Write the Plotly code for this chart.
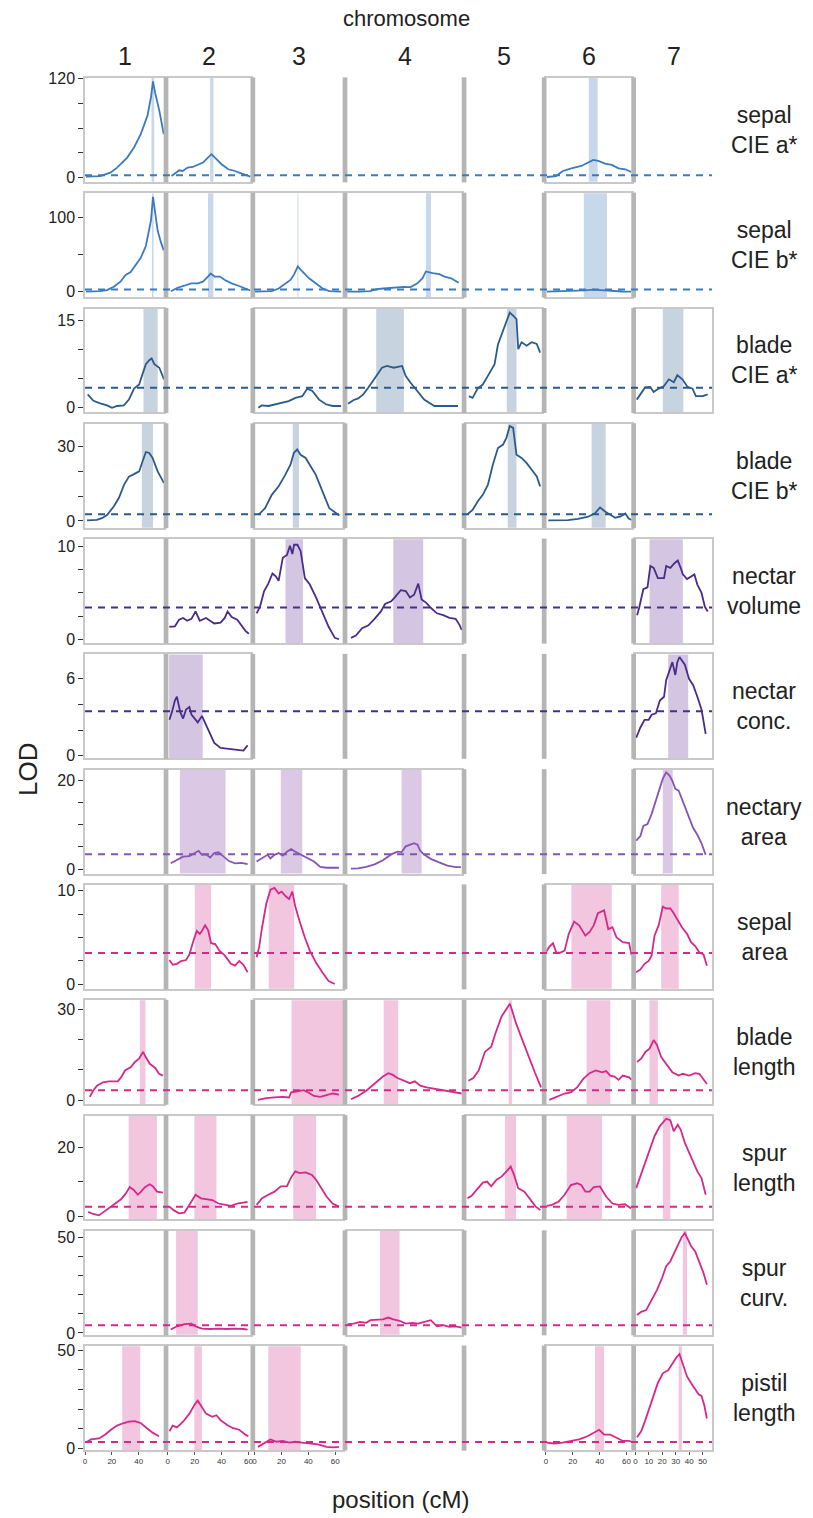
import plotly.graph_objects as go
from plotly.subplots import make_subplots

# ---------------- data ----------------
chromosomes = ["1", "2", "3", "4", "5", "6", "7"]
chrom_len = [59, 62, 66, 86, 57, 64, 57]
chrom_ticks = [[0, 20, 40], [0, 20, 40, 60], [0, 20, 40, 60], [0, 20, 40, 60, 80],
               [0, 20, 40], [0, 20, 40, 60], [0, 10, 20, 30, 40, 50]]

traits = ["sepal<br>CIE a*", "sepal<br>CIE b*", "blade<br>CIE a*", "blade<br>CIE b*",
          "nectar<br>volume", "nectar<br>conc.", "nectary<br>area", "sepal<br>area",
          "blade<br>length", "spur<br>length", "spur<br>curv.", "pistil<br>length"]
thresholds = [3, 3, 3.46, 2.7, 3.43, 3.46, 3.33, 3.35, 3.3, 2.86, 4.0, 3.3]
y_ranges = [[-5, 121], [-7, 132], [-0.8, 17.1], [-2.7, 39], [-0.4, 10.8], [-0.2, 7.9],
            [-1, 22.3], [-0.47, 10.6], [-1.3, 32.9], [-0.76, 29], [-0.9, 53.5], [-0.8, 52]]
y_tickvals = [[0, 30, 60, 90, 120], [0, 50, 100], [0, 5, 10, 15], [0, 10, 20, 30],
              [0, 2.5, 5, 7.5, 10], [0, 2, 4, 6], [0, 5, 10, 15, 20], [0, 2.5, 5, 7.5, 10],
              [0, 10, 20, 30], [0, 10, 20], [0, 10, 20, 30, 40, 50], [0, 10, 20, 30, 40, 50]]
y_ticktext = [["0", "", "", "", "120"], ["0", "", "100"], ["0", "", "", "15"], ["0", "", "", "30"],
              ["0", "", "", "", "10"], ["0", "", "", "6"], ["0", "", "", "", "20"], ["0", "", "", "", "10"],
              ["0", "", "", "30"], ["0", "", "20"], ["0", "", "", "", "", "50"], ["0", "", "", "", "", "50"]]

blue1, blue2, purple1, purple2, magenta = "#3a7bbf", "#2b5b8c", "#4a2c8a", "#8554b5", "#d5288a"
line_colors = [blue1, blue1, blue2, blue2, purple1, purple1, purple2,
               magenta, magenta, magenta, magenta, magenta]
ci_colors = ["#c7d8ea", "#c7d8ea", "#c8d3e0", "#c8d3e0", "#d4c6e2", "#d4c6e2", "#dbc8e4",
             "#f1c6de", "#f1c6de", "#f1c6de", "#f1c6de", "#f1c6de"]

# LOD profiles: position (cM) and LOD, keyed by chromosome
sepal_a_pos = {1: [0.8, 11.3, 18.9, 23.9, 31.4, 36.5, 41.5, 46.5, 49.1, 50.6, 52.1, 55.3, 58.6],
               2: [2.8, 6, 8.5, 11.1, 14.8, 18.6, 22.4, 26.2, 29.9, 32.5, 36.2, 40, 45, 50, 55.1, 59.5, 61.5],
               6: [0.75, 7.5, 12.6, 18.9, 26.4, 31.4, 35.2, 39, 44, 49, 54.1, 59.1, 63.5]}
sepal_a_lod = {1: [1.2, 2, 6.1, 12.2, 24.4, 36.6, 52.9, 75.3, 97.6, 117, 103.7, 81.4, 52.9],
               2: [2, 6.1, 9, 8.1, 12.2, 13, 15.5, 18.3, 24.4, 28.5, 22.4, 16.3, 10.2, 8.1, 4.9, 2, 1.2],
               6: [0.8, 2, 8.1, 11.4, 14.2, 18.3, 21.6, 20.3, 17.1, 15.5, 11.4, 10.2, 6.9]}
sepal_a_ci = {1: (49.5, 51.5), 2: (31.5, 34), 6: (31.9, 38.5)}

sepal_b_pos = {1: [0.8, 11.3, 16.4, 21.4, 26.4, 30.2, 34, 37.7, 41.5, 45.3, 47.8, 49.1, 50.6, 52.1, 54.1, 56.6, 58.6],
               2: [2.3, 7.3, 12.3, 17.4, 22.4, 26.2, 29.9, 31.9, 34.9, 38.7, 42.5, 47.5, 52.6, 57.6, 61.4],
               3: [0.3, 5.3, 12.8, 17.9, 22.9, 26.7, 29.2, 32.2, 35.5, 40.5, 45.5, 50.6, 55.6, 64.4],
               4: [0.2, 2.3, 9.8, 17.4, 22.4, 27.4, 35, 42.5, 47.5, 52.6, 56.4, 58.9, 63.9, 68.9, 72.7, 77.7, 83.3],
               6: [0.75, 8.8, 18.9, 29, 35.2, 41.5, 49, 56.6, 63.5]}
sepal_b_lod = {1: [0.3, 0.9, 2.3, 6.8, 13.6, 22.7, 26.4, 35.5, 45.5, 61.4, 81.8, 95.5, 127.3, 104.5, 81.8, 65.9, 55.5],
               2: [0.9, 5.5, 8.2, 11.4, 11.4, 13.6, 20.5, 24.5, 20.5, 20.5, 15.9, 11.4, 8.2, 4.5, 1.8],
               3: [0.3, 0.2, 0.9, 4.5, 11.4, 15.9, 22.7, 34.1, 27.3, 18.2, 11.4, 4.5, 0.9, 0.3],
               4: [0.3, 0.1, 0.3, 0.9, 3.6, 4.5, 5.5, 6.8, 6.4, 11.4, 18.2, 27.3, 25, 23.6, 20.5, 18.2, 12.3],
               6: [0.3, 0.5, 1, 2, 3, 2.2, 1, 0.5, 0.3]}
sepal_b_ci = {1: (49.8, 51.0), 2: (29.9, 33.9), 3: (31.9, 32.6), 4: (58.9, 62.7), 6: (28.2, 45.5)}

blade_a_pos = {1: [2, 6.3, 11.3, 16.4, 20.1, 23.9, 28.9, 32.7, 36.5, 40.3, 42.8, 45.3, 47.8, 49.6, 51.6, 55.3, 58.8],
               3: [2.8, 5.3, 10.3, 17.9, 25.4, 30.4, 35.5, 39.2, 43, 48, 53.1, 58.1, 64.4],
               4: [1, 4.8, 8.5, 12.3, 16.1, 19.9, 23.7, 26.2, 29.9, 35, 41.2, 43.8, 47.5, 52.6, 57.6, 65.2, 72.7, 82.8],
               5: [2.3, 5, 8.8, 12.6, 16.4, 21.4, 23.9, 26.4, 28.9, 31.4, 32.7, 35.2, 37.7, 39, 41.5, 45.3, 49, 52.8, 55.3],
               7: [1, 3.5, 7.2, 11, 13.5, 17.3, 21.1, 24.9, 28.6, 31.2, 35, 38.7, 42.5, 45, 50.1, 53.8]}
blade_a_lod = {1: [2.3, 1.2, 0.75, 0.4, 0, 0.3, 0.4, 1.4, 3.3, 4, 5.8, 7.5, 8.2, 8.5, 7.5, 6.9, 4.9],
               3: [0, 0.4, 0.3, 0.75, 1.15, 1.7, 2, 3.3, 2.9, 1.4, 0.6, 0.3, 0.3],
               4: [0.7, 1.3, 1.6, 2.3, 3.5, 4.7, 6.1, 6.9, 7.2, 6.9, 7.2, 5.5, 4.3, 2.9, 1.4, 0.3, 0.3, 0.3],
               5: [2, 1.7, 3.3, 4, 5.5, 7.5, 10.9, 12.4, 14.1, 15.3, 16.4, 15.9, 15.3, 10.1, 11.3, 10.7, 11.3, 11, 9.5],
               7: [1.4, 2.3, 3.5, 3.6, 2.7, 3.3, 3.7, 4.9, 4.4, 5.6, 4.9, 3.6, 3.3, 2, 2, 2.3]}
blade_a_ci = {1: (43.5, 54.1), 4: (21.9, 42.5), 5: (30.5, 37.7), 7: (20.4, 35.7)}

blade_b_pos = {1: [1.5, 8.8, 12.6, 16.4, 21.4, 25.2, 29, 32.7, 36.5, 40.3, 42.8, 45.3, 47.8, 50.3, 54.1, 56.6, 58.8],
               3: [2.8, 7.8, 12.8, 17.9, 22.9, 26.7, 29.2, 31.7, 34.2, 38, 41.8, 45.5, 50.6, 55.6, 63.1],
               5: [1.3, 5, 8.8, 12.6, 16.4, 20.1, 23.9, 27.7, 30.2, 32.7, 35.2, 37.7, 41.5, 45.3, 49, 52.8, 55.3],
               6: [1.8, 8.8, 16.4, 23.9, 31.4, 36.5, 40.3, 44, 47.8, 51.6, 55.3, 59.1, 61.6, 63.8]}
blade_b_lod = {1: [0.2, 0.4, 1.1, 2.4, 5.8, 9.2, 14.5, 17.8, 18.8, 19.9, 23.9, 27.7, 27.3, 25.3, 19.9, 17.2, 15.2],
               3: [2.4, 5.1, 10.5, 13.9, 18.6, 22.6, 27.3, 28.7, 26.6, 25.3, 21.9, 18.6, 11.8, 5.1, 2.2],
               5: [2.7, 4.4, 7.8, 10.5, 14.5, 22.6, 29.3, 30.7, 33.4, 38.1, 37.4, 26.6, 25.3, 23.2, 20.6, 17.9, 13.9],
               6: [0.2, 0.3, 0.3, 0.8, 1.7, 3.1, 5.4, 3.8, 2.7, 1.3, 1.7, 3, 1, 0.4]}
blade_b_ci = {1: (42.3, 50.6), 3: (28.4, 33), 5: (31.2, 37.7), 6: (34, 44.5)}

nectar_vol_pos = {2: [1.2, 5.3, 8.4, 11.4, 14.5, 17.6, 20.7, 23.8, 28.5, 34.6, 39.3, 42.4, 44.5, 47.6, 51.7, 54.7, 57.8, 60.3],
                  3: [1.5, 4, 7.1, 10.2, 13.3, 15.8, 17.9, 21, 24.1, 26.3, 28.1, 29.4, 31.9, 34.3, 37.4, 41.1, 45.8, 50.4, 55.1, 59.7, 62.8],
                  4: [3.1, 6.8, 11.4, 16.1, 20.7, 25.4, 28.5, 33.1, 36.2, 40.2, 43.9, 47, 50.1, 53.2, 55.7, 59.4, 62.5, 67.1, 71.8, 76.4, 81, 84.1, 85.5],
                  7: [1.2, 2.8, 5.9, 9, 11.1, 13.6, 16.7, 21.3, 22.9, 26, 29.1, 31.5, 33.7, 35.3, 38.4, 41.4, 43.9, 46.1, 49.2, 51.7, 53.8]}
nectar_vol_lod = {2: [1.35, 1.4, 2.1, 2.3, 2, 2.2, 3, 2, 2.3, 1.7, 1.8, 2.3, 3, 2.4, 2.1, 1.5, 0.9, 0.6],
                  3: [2.8, 3.5, 5.2, 6, 7.1, 6.8, 6.3, 8.8, 9.1, 10.1, 9.2, 10.2, 10.2, 9.5, 6.6, 5.9, 4.5, 3, 1.35, 0.15, 0],
                  4: [0.15, 0.4, 1.2, 1.5, 2.2, 3, 3.8, 4.1, 4.6, 5.3, 5.2, 4.5, 4.8, 6, 4.3, 3.9, 3.4, 2.8, 2.6, 2.3, 2.2, 1.5, 1],
                  7: [2.6, 3.4, 5.4, 5.6, 7.9, 7.7, 6.6, 6.6, 7.9, 7.7, 8.2, 8.5, 7.7, 7, 6.5, 6.8, 7, 5.9, 5, 3.5, 3]}
nectar_vol_ci = {3: (23, 36), 4: (34.6, 56.9), 7: (10.5, 35.3)}

nectar_conc_pos = {2: [1.2, 3.1, 5.3, 6.8, 9.3, 11.4, 13.6, 16.1, 17.6, 19.8, 22.3, 25.4, 29.1, 31.5, 34.6, 39.3, 45.5, 51.7, 56.3, 59.4],
                   7: [0.6, 3.7, 6.8, 9.9, 12.1, 15.2, 18.2, 21.3, 22.9, 25.4, 27.5, 29.7, 31.2, 32.8, 34.6, 36.8, 39.9, 43, 46.1, 49.2, 52.3]}
nectar_conc_lod = {2: [2.8, 3.4, 4.3, 4.6, 3.4, 2.9, 3.6, 3.8, 3.2, 2.9, 2.6, 3.1, 2.3, 1.7, 1, 0.6, 0.5, 0.45, 0.4, 0.8],
                   7: [1.4, 2.2, 2.8, 2.8, 3.2, 3.3, 4.3, 4.6, 5.9, 6.6, 7.3, 6.3, 7.3, 7.7, 7.4, 7.1, 6, 5.5, 4.6, 3.6, 1.7]}
nectar_conc_ci = {2: (1, 26), 7: (24.4, 39.3)}

nectary_area_pos = {2: [2.2, 6.8, 11.4, 16.1, 20.7, 22.9, 25.4, 28.5, 31.5, 34.6, 37.7, 40.8, 45.5, 50.1, 54.7, 59.4],
                    3: [1.5, 5.6, 9.6, 11.8, 14.8, 17.9, 21, 24.1, 27.2, 30.3, 34.9, 39.6, 44.2, 48.9, 53.5, 58.1, 62.8],
                    4: [3.1, 8.4, 14.5, 20.7, 26.9, 33.1, 37.7, 40.8, 43.9, 47, 50.1, 52.6, 54.7, 57.8, 62.5, 68.7, 74.9, 81, 85],
                    7: [0.6, 3.7, 5.9, 9, 12.1, 15.2, 18.2, 20.4, 22.9, 25.4, 27.5, 29.7, 32.2, 35.3, 39, 43, 46.1, 49.2, 52.3]}
nectary_area_lod = {2: [1.3, 2, 2.8, 2.9, 3.6, 4.1, 3.2, 3.3, 2.6, 3.6, 3.8, 3, 1.8, 1.3, 1.4, 1.1],
                    3: [1.7, 2.4, 3.2, 2.4, 3.2, 3.6, 3, 3.9, 4.5, 3.9, 3.2, 2.4, 1.7, 0.5, 0.3, 0.3, 0.3],
                    4: [0.1, 0.15, 0.5, 1.06, 2, 3.3, 3.9, 3.8, 5.1, 5.5, 5.8, 5.5, 4.1, 3.2, 2.3, 1.5, 0.8, 0.45, 0.45],
                    7: [6.4, 7.4, 9.7, 10.1, 12.4, 15.5, 18, 20.3, 21.7, 21, 19.8, 18, 17.6, 15.3, 12.3, 9.2, 7.7, 5.8, 3.2]}
nectary_area_ci = {2: (9, 43), 3: (19.5, 35.5), 4: (40.8, 55.7), 7: (20.4, 27.8)}

sepal_area_pos = {2: [1.2, 3.7, 6.8, 9.9, 13.6, 16.1, 19.2, 21.6, 23.8, 25.4, 27.8, 30, 32.2, 35.3, 38.4, 42.4, 47, 50.1, 53.2, 56.3, 59.4],
                  3: [1.5, 3.4, 5.6, 8.7, 11.8, 14.8, 17.9, 20.1, 23.2, 25.7, 28.1, 30.3, 33.4, 37.4, 41.1, 45.8, 50.4, 55.1, 59.7],
                  6: [0.3, 2.5, 5.3, 7.7, 10.8, 13.9, 17, 21, 24.7, 29.4, 32.5, 35.6, 38.7, 43.3, 46.4, 49.5, 52.6, 57.2, 61.9, 63.8],
                  7: [0.6, 3.7, 6.8, 9.9, 12.1, 14.2, 17.3, 20.4, 22.9, 26, 28.5, 31.5, 34.6, 38.4, 41.4, 44.5, 47.6, 50.7, 53.2]}
sepal_area_lod = {2: [2.6, 2.1, 2.2, 2.5, 2.6, 3.2, 4.7, 5.7, 5.4, 5.7, 6.3, 5.8, 4.4, 4.3, 3.6, 3.1, 2.2, 2, 2.5, 2.1, 1.3],
                  3: [2.9, 4, 6.1, 8.6, 10.1, 10.3, 9.7, 9.9, 9.4, 9.1, 9.9, 8.3, 6.8, 5, 3.6, 2.3, 1.3, 0.36, 0.05],
                  6: [3.5, 4, 4.4, 3.4, 3.4, 3.6, 5.4, 6.7, 6.3, 5.2, 5.6, 6.3, 7.6, 7.9, 5.9, 6.1, 5, 4.5, 4.4, 3.1],
                  7: [1.3, 1.6, 2.2, 2.5, 3.1, 5.2, 6.3, 8.3, 8.1, 8.1, 7.6, 6.8, 6.1, 5.4, 4.5, 4.1, 3.4, 3.2, 2]}
sepal_area_ci = {2: (20.1, 32.2), 3: (10.5, 29.5), 6: (19, 49), 7: (19.2, 32.2)}

blade_len_pos = {1: [3.6, 6, 8.9, 13.4, 17.9, 24.4, 26.8, 29.8, 34.2, 37.2, 40.2, 43.2, 45.2, 48.2, 52.1, 55.1, 58],
                 3: [2.5, 8.7, 14.8, 21, 25.7, 27.2, 31.9, 36.5, 39.6, 44.2, 48.9, 53.5, 58.1, 62.8],
                 4: [3.1, 8.4, 14.5, 19.2, 23.8, 26.9, 30.9, 34, 37.7, 42.4, 47, 50.7, 54.7, 59.4, 65.6, 71.8, 77.9, 85.5],
                 5: [1.9, 5.6, 9.6, 14.2, 18.9, 22, 26.6, 30.3, 32.8, 34.3, 37.4, 42.1, 46.7, 51.3, 56],
                 6: [2.5, 7.7, 13.9, 18.6, 23.2, 27.8, 32.5, 37.1, 41.8, 44.8, 47.9, 51, 54.1, 57.2, 61.9, 63.8],
                 7: [1.2, 4.3, 7.4, 10.5, 13.6, 16.1, 19.2, 22.9, 27.5, 32.2, 35.3, 39.9, 44.5, 47.6, 50.7, 53.2]}
blade_len_lod = {1: [1.1, 3.1, 4.8, 5.9, 6.2, 6.2, 7.5, 9.8, 10.9, 12.6, 13.7, 15.9, 14.2, 12, 10.7, 8.7, 8.1],
                 3: [0.1, 0.7, 0.9, 1.1, 0.9, 2.6, 2.9, 3.3, 2.6, 1.4, 1.1, 1.6, 2.2, 1.8],
                 4: [0.3, 1.4, 3.1, 4.8, 6.4, 7.8, 8.9, 8.4, 7.3, 6.4, 5.6, 6.2, 4.8, 4.2, 3.7, 3.1, 2.6, 2.2],
                 5: [6.4, 7.3, 9.8, 15.9, 17.6, 22, 27.6, 30.3, 31.8, 29.8, 25.3, 19.8, 14.2, 9.2, 4.2],
                 6: [0.1, 1.1, 2.2, 2.6, 4.2, 7, 8.9, 9.8, 9.2, 9.6, 8.1, 7.8, 6.7, 8.1, 7.5, 6.7],
                 7: [12.6, 13.7, 15.9, 17, 19.8, 18.1, 14.2, 11.8, 9.2, 8.1, 8.7, 8.1, 8.9, 8.7, 6.7, 5.3]}
blade_len_ci = {1: (40.8, 45), 3: (27.5, 66), 4: (27.5, 38.3), 5: (31.9, 34.3), 6: (30.3, 47.9), 7: (10.5, 16.7)}

spur_len_pos = {1: [2.4, 6, 10.4, 13.4, 17.9, 22.3, 26.8, 30.4, 33.3, 36.3, 39.3, 41.7, 44.6, 48.2, 50.6, 53.6, 58],
                2: [1.2, 4.3, 8.4, 12.4, 16.7, 20.7, 24.7, 29.1, 33.1, 37.7, 42.4, 47, 51.7, 56.3, 59.4],
                3: [1.5, 5.6, 10.2, 14.8, 19.5, 24.1, 27.2, 30.3, 33.4, 38, 42.7, 45.8, 48.9, 53.5, 58.1, 62.8],
                5: [1.2, 4.3, 8, 12.7, 15.8, 18.9, 22.9, 26.6, 30.3, 33.4, 35.9, 39, 43.6, 48.3, 52, 55.5],
                6: [0.6, 4.6, 9.3, 13.9, 18.6, 23.2, 26.3, 29.4, 32.5, 35.6, 40.2, 44.8, 49.5, 54.1, 58.8, 63.4],
                7: [0.6, 3.7, 7.4, 10.5, 14.2, 18.2, 22.9, 26, 28.5, 31.5, 33.7, 36.8, 39.9, 43, 46.1, 49.2, 52.3]}
spur_len_lod = {1: [1.4, 0.8, 0.4, 1.2, 2.4, 3.8, 5, 6.7, 8.5, 7.7, 6.3, 7.2, 8.5, 9.3, 8.7, 7.2, 6.9],
                2: [2.9, 1.9, 1, 1.2, 3.8, 6.3, 5.3, 5, 4.8, 3.8, 3.4, 3.1, 3.8, 4, 4.3],
                3: [3.4, 5.3, 6.3, 7.2, 8.7, 8.8, 11.3, 13, 12.5, 12.7, 12, 10.6, 8.7, 5.8, 3.8, 2.9],
                5: [5.3, 6, 7.7, 9.8, 10.1, 8.7, 10.6, 11.5, 13, 14.4, 12, 8.2, 7.2, 4.8, 2.9, 1.9],
                6: [3.1, 3.4, 4.3, 6.3, 9.1, 9.6, 9.1, 7.2, 7.2, 8.5, 8.7, 5.8, 3.8, 3.4, 3.6, 2.4],
                7: [8.2, 11.5, 15.4, 19.2, 23.1, 26, 28.1, 27.7, 24.5, 26.4, 25, 21.2, 18.3, 15.4, 13, 11.1, 6.3]}
spur_len_ci = {1: (32.5, 53.5), 2: (19.8, 36.2), 3: (28.8, 45.8), 5: (29.1, 37.4), 6: (15.5, 41.8), 7: (20.4, 26)}

spur_curv_pos = {2: [2.2, 6.8, 12.4, 17.6, 20.7, 25.4, 31.5, 37.7, 43.9, 50.1, 56.3, 59.4],
                 4: [0.6, 5.3, 9.9, 14.5, 17.6, 22.3, 26.9, 30.9, 34.6, 39.3, 43.9, 48.6, 53.2, 57.8, 62.5, 67.1, 71.8, 76.4, 81, 85.5],
                 7: [1.2, 4.3, 8, 12.1, 16.1, 19.8, 22.9, 26, 29.1, 32.2, 34.6, 36.8, 38.4, 41.4, 44.5, 47.6, 50.7, 53.2]}
spur_curv_lod = {2: [1.8, 3.5, 4.6, 4.9, 3.5, 2.3, 2.1, 2.3, 2.1, 2.3, 2.1, 1.8],
                 4: [4.6, 4.9, 5.8, 5.3, 6.7, 7.1, 7.1, 8.1, 7.1, 6.4, 4.9, 5.3, 4.9, 5.8, 6.7, 3.5, 4.1, 3.2, 3.5, 2.8],
                 7: [9.4, 11.1, 12, 17.3, 22.6, 28.8, 35, 37.6, 42, 47.3, 50.5, 52.3, 50, 45.6, 42.8, 37.6, 31.4, 25.3]}
spur_curv_ci = {2: (6.2, 22.3), 4: (24.7, 39.3), 7: (35.3, 38.4)}

pistil_len_pos = {1: [1.5, 4.5, 10.4, 14.9, 19.3, 23.8, 28.3, 32.7, 37.2, 41.7, 46.1, 50.6, 55.1],
                  2: [1.2, 3.7, 6.8, 11.4, 16.1, 19.8, 22.3, 24.7, 28.5, 33.1, 36.2, 39.3, 43.9, 48.6, 53.2, 57.8, 60],
                  3: [2.5, 7.1, 11.8, 16.4, 21, 25.7, 30.3, 35, 41.1, 47.3, 53.5, 58.1, 62.8],
                  6: [0.6, 6.2, 12.4, 18.6, 24.7, 30.9, 35.6, 39.6, 43.3, 47.9, 52.6, 57.2, 61.9, 63.8],
                  7: [1.2, 4.3, 7.4, 10.5, 13.6, 16.7, 20.4, 24.4, 27.5, 30.6, 32.8, 35.3, 38.4, 41.4, 44.5, 47, 49.2, 51.3, 53.2]}
pistil_len_lod = {1: [3.4, 4.6, 5.1, 7, 9.5, 11.6, 12.8, 13.6, 13.9, 12.8, 10.3, 7.9, 6.2],
                  2: [8.7, 11.6, 10.7, 13.6, 17.7, 22.1, 24.3, 21.8, 17.7, 16.1, 16.9, 14.4, 12, 10.3, 9.5, 7, 6.2],
                  3: [0.8, 2.5, 4.6, 3.4, 3.8, 3, 3.4, 3, 2.5, 2.1, 0.8, 0.5, 0.8],
                  6: [3, 2.5, 3, 3.8, 4.6, 6.2, 7.9, 9.5, 7, 7, 5.4, 3.8, 3.8, 3.4],
                  7: [5.7, 8.7, 14.4, 21, 26.7, 33.3, 38.2, 39.8, 43.1, 46.4, 48, 43.1, 36.6, 33.3, 30, 27.5, 26.7, 21.8, 15.2]}
pistil_len_ci = {1: (27.7, 41.1), 2: (19.8, 25.4), 3: (10.2, 34.3), 6: (36.5, 43.3), 7: (32.2, 34.6)}

trait_pos = [sepal_a_pos, sepal_b_pos, blade_a_pos, blade_b_pos, nectar_vol_pos, nectar_conc_pos,
             nectary_area_pos, sepal_area_pos, blade_len_pos, spur_len_pos, spur_curv_pos, pistil_len_pos]
trait_lod = [sepal_a_lod, sepal_b_lod, blade_a_lod, blade_b_lod, nectar_vol_lod, nectar_conc_lod,
             nectary_area_lod, sepal_area_lod, blade_len_lod, spur_len_lod, spur_curv_lod, pistil_len_lod]
trait_ci = [sepal_a_ci, sepal_b_ci, blade_a_ci, blade_b_ci, nectar_vol_ci, nectar_conc_ci,
            nectary_area_ci, sepal_area_ci, blade_len_ci, spur_len_ci, spur_curv_ci, pistil_len_ci]

# ---------------- layout geometry ----------------
W, H = 813, 1518
L, R, T, B = 85, 712, 78, 1450
pw, ph = R - L, B - T
NR, NC = len(traits), len(chromosomes)
gap_px = 3.5
vgap_px = 11.5

fig = make_subplots(rows=NR, cols=NC, column_widths=chrom_len,
                    horizontal_spacing=gap_px / pw, vertical_spacing=vgap_px / ph)

FONT = "Liberation Sans, Arial, sans-serif"
border = "#c9c9c9"
sep_col = "#b5b5b5"


def ax_id(r, c):
    i = (r - 1) * NC + c
    return "" if i == 1 else str(i)


for r in range(1, NR + 1):
    ti = r - 1
    for c in range(1, NC + 1):
        k = ax_id(r, c)
        ci = trait_ci[ti].get(c)
        if ci is not None:
            fig.add_shape(type="rect", xref="x" + k, yref="y" + k + " domain",
                          x0=ci[0], x1=ci[1], y0=0, y1=1,
                          fillcolor=ci_colors[ti], line_width=0, layer="below")
        if c in trait_pos[ti]:
            fig.add_trace(go.Scatter(x=trait_pos[ti][c], y=trait_lod[ti][c], mode="lines",
                                     line=dict(color=line_colors[ti], width=1.8),
                                     showlegend=False, hoverinfo="skip"), row=r, col=c)
        fig.update_xaxes(range=[0, chrom_len[c - 1]], showgrid=False, zeroline=False,
                         showline=True, mirror=True, linecolor=border, linewidth=1.5,
                         tickvals=chrom_ticks[c - 1],
                         ticks="outside" if r == NR else "", ticklen=3, tickcolor="#555",
                         showticklabels=(r == NR),
                         tickfont=dict(size=8, color="#333", family=FONT), row=r, col=c)
        fig.update_yaxes(range=y_ranges[ti], showgrid=False, zeroline=False,
                         showline=True, mirror=True, linecolor=border, linewidth=1.5,
                         tickvals=y_tickvals[ti], ticktext=y_ticktext[ti],
                         ticks="outside" if c == 1 else "", ticklen=5, tickcolor="#333",
                         showticklabels=(c == 1),
                         tickfont=dict(size=16, color="#222", family=FONT), row=r, col=c)

annotations = []
shapes = []
for r in range(1, NR + 1):
    ti = r - 1
    ydom = fig.layout["yaxis" + ax_id(r, 1)].domain
    # chromosome separators
    for c in range(1, NC):
        d0 = fig.layout["xaxis" + ax_id(r, c)].domain
        d1 = fig.layout["xaxis" + ax_id(r, c + 1)].domain
        shapes.append(dict(type="rect", xref="paper", yref="paper",
                           x0=d0[1] - 0.6 / pw, x1=d1[0] + 0.6 / pw,
                           y0=ydom[0] - 0.6 / ph, y1=ydom[1] + 0.6 / ph,
                           fillcolor=sep_col, line_width=0, layer="above"))
    # significance threshold across the whole row
    shapes.append(dict(type="line", xref="paper", yref="y" + ax_id(r, 1),
                       x0=0, x1=1, y0=thresholds[ti], y1=thresholds[ti],
                       line=dict(color=line_colors[ti], width=2, dash="7px,6px"),
                       layer="above"))
    annotations.append(dict(text=traits[ti], xref="paper", yref="paper",
                            x=(764 - L) / pw, y=(ydom[0] + ydom[1]) / 2,
                            showarrow=False, xanchor="center", yanchor="middle",
                            font=dict(size=23, color="#222", family=FONT)))

for c in range(1, NC + 1):
    d = fig.layout["xaxis" + ax_id(1, c)].domain
    annotations.append(dict(text=chromosomes[c - 1], xref="paper", yref="paper",
                            x=(d[0] + d[1]) / 2, y=1 + (T - 56) / ph, showarrow=False,
                            xanchor="center", yanchor="middle",
                            font=dict(size=25, color="#222", family=FONT)))

annotations.append(dict(text="chromosome", xref="paper", yref="paper",
                        x=(406 - L) / pw, y=1 + (T - 18) / ph, showarrow=False,
                        xanchor="center", yanchor="middle",
                        font=dict(size=22, color="#222", family=FONT)))
annotations.append(dict(text="LOD", xref="paper", yref="paper",
                        x=(28 - L) / pw, y=(B - 770) / ph, showarrow=False, textangle=-90,
                        xanchor="center", yanchor="middle",
                        font=dict(size=26, color="#222", family=FONT)))
annotations.append(dict(text="position (cM)", xref="paper", yref="paper",
                        x=(400 - L) / pw, y=-(1500 - B) / ph, showarrow=False,
                        xanchor="center", yanchor="middle",
                        font=dict(size=24, color="#222", family=FONT)))

fig.update_layout(width=W, height=H, margin=dict(l=L, r=W - R, t=T, b=H - B),
                  plot_bgcolor="white", paper_bgcolor="white",
                  shapes=list(fig.layout.shapes) + shapes, annotations=annotations,
                  showlegend=False, font=dict(family=FONT))

fig.write_html("out.html", config={"displayModeBar": False},
               post_script="document.body.style.margin='0';document.body.style.overflow='hidden';")
